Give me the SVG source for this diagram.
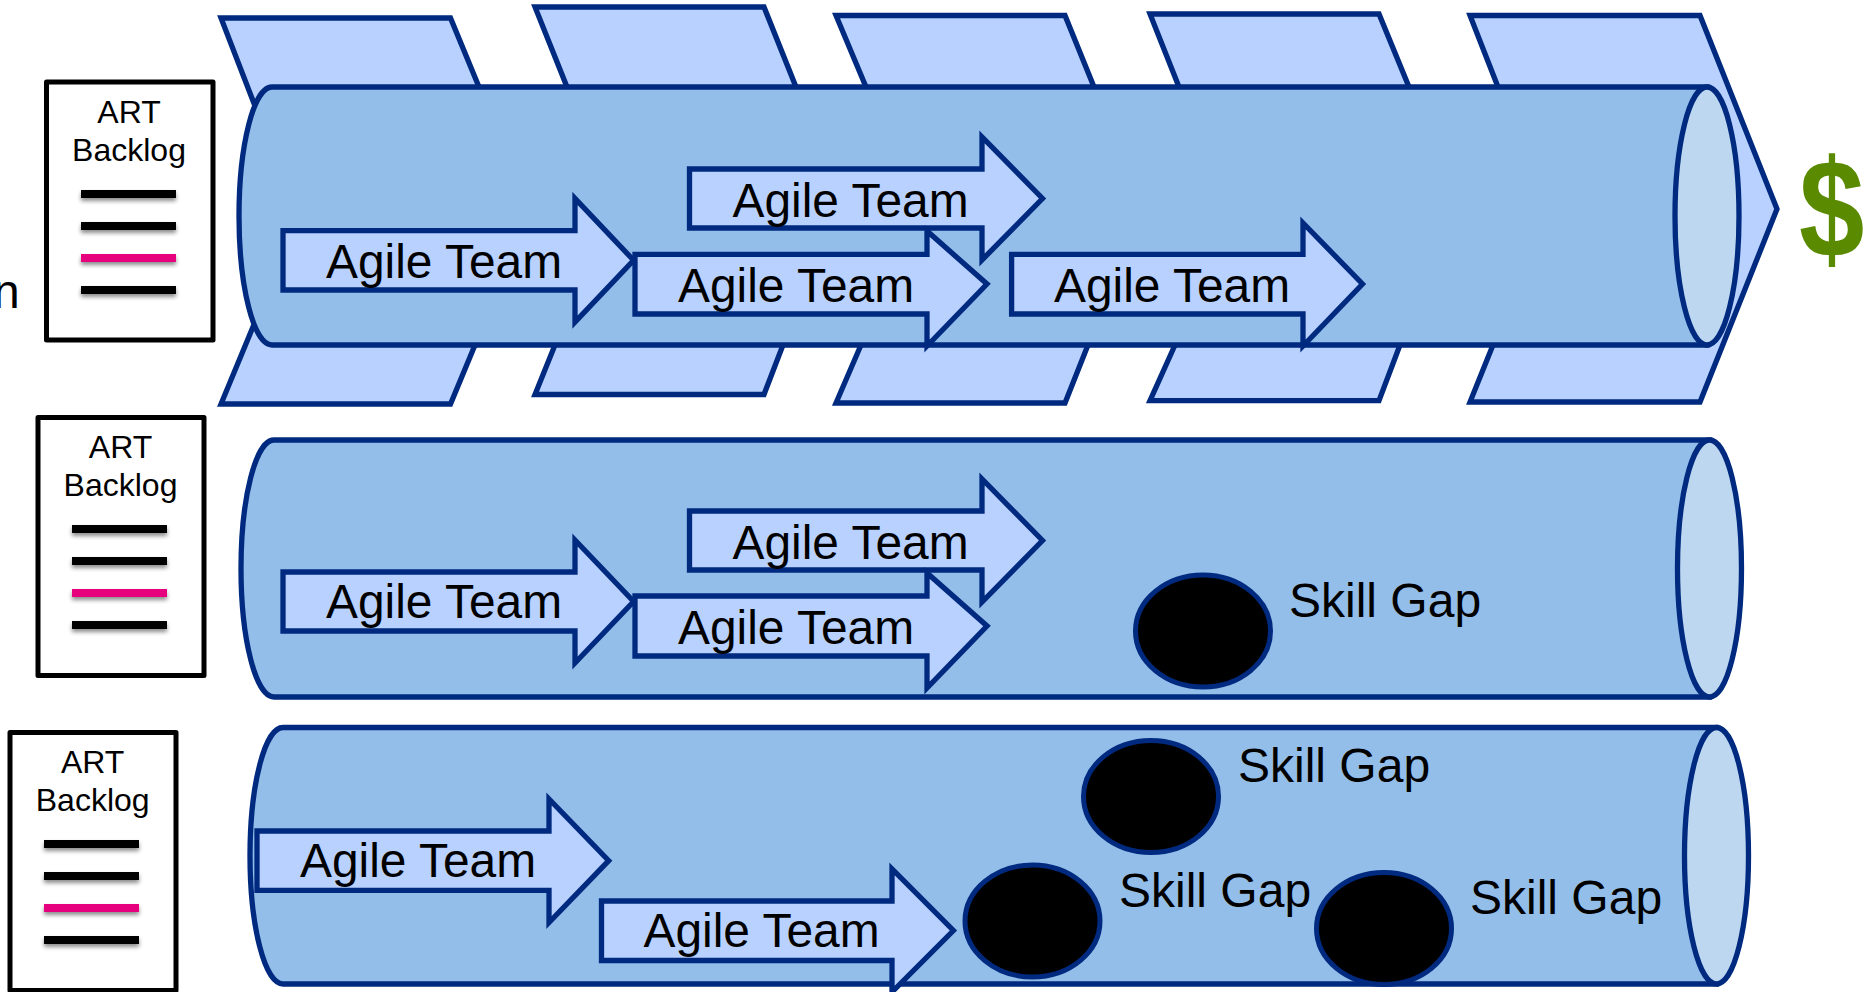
<svg xmlns="http://www.w3.org/2000/svg" width="1864" height="992" viewBox="0 0 1864 992">
<style>
text{font-family:"Liberation Sans",Arial,sans-serif;fill:#000}
.s{fill:#B9D1FF;stroke:#002A7F;stroke-width:5.300;stroke-linejoin:miter}
.b{fill:#93BEE9;stroke:#002A7F;stroke-width:5.300}
.e{fill:#BDD7F0;stroke:#002A7F;stroke-width:5.300}
.h{fill:#000;stroke:#002A7F;stroke-width:5}
.t{font-size:47.900px}
.g{font-size:48px}
.k{font-size:32px;text-anchor:middle}
.box{fill:#fff;stroke:#000;stroke-width:5;stroke-linejoin:round}
.l{fill:#000;filter:url(#sh)}
.p{fill:#E6007E;filter:url(#sh)}
</style>
<defs>
<filter id="sh" x="-10%" y="-100%" width="120%" height="400%"><feDropShadow dx="0" dy="3" stdDeviation="2" flood-color="#000" flood-opacity="0.45"/></filter>
</defs>
<text x="-7" y="308" font-size="48">n</text>
<g id="value-stream">
<polygon class="s" points="221,18 450.5,18 479,87 475,345 450.5,404 221,404 255,322 255,106"/>
<polygon class="s" points="535,7 764,7 796,87 783,345 764,394.5 535,394.5 555,345 567,87"/>
<polygon class="s" points="836,15.5 1065,15.5 1094,87 1088,345 1065,403 836,403 861,345 866,87"/>
<polygon class="s" points="1150,14 1379,14 1409,87 1400,345 1379,400.6 1150,400.6 1175,345 1179,87"/>
<polygon class="s" points="1470,15.5 1700,15.5 1777,209 1700,402 1470,402 1493,345 1498,87"/>
</g>
<g id="train-1">
<path class="b" d="M272,87H1707V345H272A33,129 0 0 1 272,87Z"/>
<ellipse class="e" cx="1707" cy="216" rx="32" ry="129"/>
</g>
<g id="train-2">
<path class="b" d="M274,440H1709.500V697H274A33,128.500 0 0 1 274,440Z"/>
<ellipse class="e" cx="1709.500" cy="568.500" rx="32" ry="128.500"/>
</g>
<g id="train-3">
<path class="b" d="M283,727.500H1716.500V984H283A33,128.250 0 0 1 283,727.500Z"/>
<ellipse class="e" cx="1716.500" cy="855.750" rx="32" ry="128.250"/>
</g>
<g id="team-1b"><polygon class="s" points="689.500,169 982,169 982,137 1042.500,198.500 982,260 982,228 689.500,228"/><text class="t" x="732.500" y="216.500">Agile Team</text></g>
<g id="team-1a"><polygon class="s" points="283,230.600 575,230.600 575,198.500 633.600,260.300 575,322 575,290 283,290"/><text class="t" x="326" y="277.500">Agile Team</text></g>
<g id="team-1c"><polygon class="s" points="635,254.400 927,254.400 927,231 987,284 927,346 927,314 635,314"/><text class="t" x="678" y="301.500">Agile Team</text></g>
<g id="team-1d"><polygon class="s" points="1011.600,254.400 1303,254.400 1303,223 1362.500,284 1303,346 1303,314 1011.600,314"/><text class="t" x="1054" y="301.500">Agile Team</text></g>
<g id="team-2b"><polygon class="s" points="689.500,511 982,511 982,479 1042.500,540.500 982,602 982,570 689.500,570"/><text class="t" x="732.500" y="558.500">Agile Team</text></g>
<g id="team-2a"><polygon class="s" points="283,572 575,572 575,540 633.600,601.500 575,663 575,631 283,631"/><text class="t" x="326" y="618">Agile Team</text></g>
<g id="team-2c"><polygon class="s" points="635,596 927,596 927,573 987,626 927,688 927,656 635,656"/><text class="t" x="678" y="643.500">Agile Team</text></g>
<g id="team-3a"><polygon class="s" points="257,831 549,831 549,799 608.700,860.700 549,922.500 549,890.400 257,890.400"/><text class="t" x="300" y="877">Agile Team</text></g>
<g id="team-3b"><polygon class="s" points="601.500,901 892,901 892,869 953.400,930.500 892,992 892,960.500 601.500,960.500"/><text class="t" x="643.500" y="946.500">Agile Team</text></g>
<g id="gap-2"><ellipse class="h" cx="1203" cy="631" rx="67.500" ry="56"/><text class="g" x="1289" y="617">Skill Gap</text></g>
<g id="gap-3a"><ellipse class="h" cx="1151" cy="796.500" rx="67.500" ry="56"/><text class="g" x="1238" y="782">Skill Gap</text></g>
<g id="gap-3b"><ellipse class="h" cx="1032.500" cy="921" rx="67.500" ry="56"/><text class="g" x="1119" y="907">Skill Gap</text></g>
<g id="gap-3c"><ellipse class="h" cx="1384" cy="928.500" rx="67.500" ry="56"/><text class="g" x="1470" y="914">Skill Gap</text></g>
<g id="backlog-1">
<rect class="box" x="46.500" y="82" width="166.500" height="258"/>
<text class="k" x="129" y="123">ART</text><text class="k" x="129" y="161">Backlog</text>
<rect class="l" x="81" y="190" width="95" height="8"/><rect class="l" x="81" y="222" width="95" height="8"/><rect class="p" x="81" y="254" width="95" height="8"/><rect class="l" x="81" y="286" width="95" height="8"/>
</g>
<g id="backlog-2">
<rect class="box" x="38" y="417.500" width="166" height="258"/>
<text class="k" x="120.500" y="458">ART</text><text class="k" x="120.500" y="496">Backlog</text>
<rect class="l" x="72" y="525" width="95" height="8"/><rect class="l" x="72" y="557" width="95" height="8"/><rect class="p" x="72" y="589" width="95" height="8"/><rect class="l" x="72" y="621" width="95" height="8"/>
</g>
<g id="backlog-3">
<rect class="box" x="10" y="732.500" width="166" height="258"/>
<text class="k" x="92.700" y="772.500">ART</text><text class="k" x="92.700" y="811">Backlog</text>
<rect class="l" x="44" y="840" width="95" height="8"/><rect class="l" x="44" y="872" width="95" height="8"/><rect class="p" x="44" y="904" width="95" height="8"/><rect class="l" x="44" y="936" width="95" height="8"/>
</g>
<g id="value"><text transform="translate(1799,257) scale(.84,1)" font-size="140" font-weight="700" style="fill:#5A8A00">$</text></g>
</svg>
